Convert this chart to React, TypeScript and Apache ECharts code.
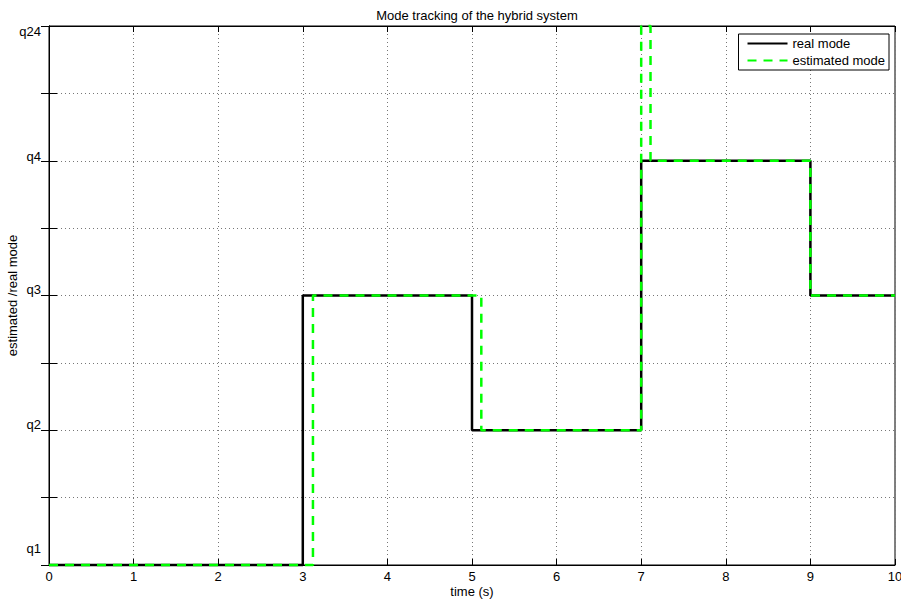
import React, { useEffect, useRef } from "react";
import * as echarts from "echarts";

const modeNames: Record<number, string> = { 1: "q1", 2: "q2", 3: "q3", 4: "q4", 5: "q24" };
const realTimes = [0, 3, 5, 7, 9, 10];
const realModes = [1, 3, 2, 4, 3, 3];
const estTimes = [0, 3.12, 5.11, 7.0, 7.11, 9, 10];
const estModes = [1, 3, 2, 5, 4, 3, 3];

const FONT = "Liberation Sans";
const FS = 13;

export default function App() {
  const ref = useRef<HTMLDivElement>(null);
  useEffect(() => {
    const chart = echarts.init(ref.current!, null, { renderer: "svg" });
    const realData = realTimes.map((t, i) => [t, realModes[i]]);
    const estData = estTimes.map((t, i) => [t, estModes[i]]);
    const styleKey: Record<number, string> = { 1: "low", 2: "mid", 3: "mid", 4: "hi", 5: "top" };
    const yFmt = (v: number) =>
      Number.isInteger(v) && modeNames[v] ? `{${styleKey[v]}|${modeNames[v]}}` : "";
    const base = { fontFamily: FONT, fontSize: FS, color: "#000", verticalAlign: "middle" };
    chart.setOption({
      animation: false,
      backgroundColor: "#fff",
      title: {
        text: "Mode tracking of the hybrid system",
        left: 472,
        textAlign: "center",
        top: 4,
        textStyle: { fontFamily: FONT, fontSize: FS, fontWeight: "normal", color: "#000" },
      },
      legend: {
        orient: "vertical",
        right: 12,
        top: 34,
        backgroundColor: "#fff",
        borderColor: "#000",
        borderWidth: 1,
        borderRadius: 0,
        padding: [3, 4, 3, 8],
        itemWidth: 40,
        itemHeight: 13,
        itemGap: 4,
        itemStyle: { opacity: 0 },
        textStyle: { fontFamily: FONT, fontSize: FS, color: "#000" },
        data: ["real mode", "estimated mode"],
      },
      grid: {
        left: 49,
        right: 6,
        top: 26,
        bottom: 38,
        show: true,
        borderColor: "#000",
        borderWidth: 1,
        backgroundColor: "#fff",
        outerBoundsMode: "none",
        containLabel: false,
      },
      xAxis: [
        {
          type: "value",
          min: 0,
          max: 10,
          interval: 1,
          name: "time (s)",
          nameLocation: "middle",
          nameGap: 20,
          nameMoveOverlap: false,
          nameTextStyle: { fontFamily: FONT, fontSize: FS, color: "#000" },
          axisLine: { show: true, lineStyle: { color: "#000", width: 1 } },
          axisTick: { show: true, inside: true, length: 6, lineStyle: { color: "#000" } },
          axisLabel: { fontFamily: FONT, fontSize: FS, color: "#000", margin: 5 },
          splitLine: { show: true, lineStyle: { color: "#777", type: [1, 3], width: 1 } },
        },
        {
          type: "value",
          position: "top",
          min: 0,
          max: 10,
          interval: 1,
          axisLine: { show: true, lineStyle: { color: "#000" } },
          axisTick: { show: true, inside: true, length: 6, lineStyle: { color: "#000" } },
          axisLabel: { show: false },
          splitLine: { show: false },
        },
      ],
      yAxis: [
        {
          type: "value",
          min: 1,
          max: 5,
          interval: 0.5,
          name: "estimated /real mode",
          nameLocation: "middle",
          nameGap: 30,
          nameMoveOverlap: false,
          nameRotate: 90,
          nameTextStyle: { fontFamily: FONT, fontSize: FS, color: "#000" },
          axisLine: { show: true, lineStyle: { color: "#000" } },
          axisTick: { show: true, inside: true, length: 8, lineStyle: { color: "#000" } },
          axisLabel: {
            fontFamily: FONT,
            fontSize: FS,
            color: "#000",
            margin: 8,
            formatter: yFmt,
            rich: {
              low: { ...base, padding: [0, 0, 34, 0] },
              mid: { ...base, padding: [0, 0, 12, 0] },
              hi: { ...base, padding: [0, 0, 8, 0] },
              top: { ...base, padding: [10, 0, 0, 0] },
            },
          },
          splitLine: { show: true, lineStyle: { color: "#777", type: [1, 3], width: 1 } },
        },
        {
          type: "value",
          position: "right",
          min: 1,
          max: 5,
          interval: 0.5,
          axisLine: { show: true, lineStyle: { color: "#000" } },
          axisTick: { show: true, inside: true, length: 8, lineStyle: { color: "#000" } },
          axisLabel: { show: false },
          splitLine: { show: false },
        },
      ],
      series: [
        {
          name: "real mode",
          type: "line",
          step: "end",
          data: realData,
          showSymbol: false,
          symbol: "none",
          clip: false,
          lineStyle: { color: "#000", width: 2.5 },
          itemStyle: { color: "#000" },
          z: 2,
        },
        {
          name: "estimated mode",
          type: "line",
          step: "end",
          data: estData,
          showSymbol: false,
          symbol: "none",
          clip: false,
          lineStyle: { color: "#00ff00", width: 2.5, type: [9, 7] },
          itemStyle: { color: "#00ff00" },
          z: 3,
        },
      ],
    });
    return () => chart.dispose();
  }, []);
  return <div ref={ref} style={{ width: 901, height: 603, position: "absolute", left: 0, top: 0 }} />;
}
